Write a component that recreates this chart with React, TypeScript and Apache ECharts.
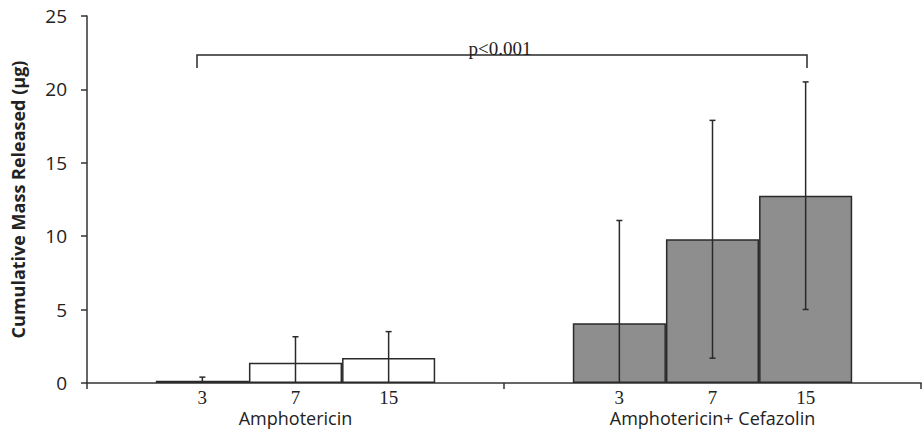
import React, { useEffect, useRef } from "react";
import * as echarts from "echarts";

const groups = ["Amphotericin", "Amphotericin+ Cefazolin"];
const days = ["3", "7", "15"];
const amphMeans = [0.15, 1.38, 1.7];
const amphSD = [0.25, 1.77, 1.8];
const cefMeans = [4.07, 9.79, 12.76];
const cefSD = [7.0, 8.1, 7.75];
const yTicks = [0, 5, 10, 15, 20, 25];
const pLabel = "p<0.001";

const AXIS = "#333333";
const GRAY = "#8e8e8e";
const GAP = 0.33;

export default function App() {
  const ref = useRef<HTMLDivElement>(null);
  useEffect(() => {
    const chart = echarts.init(ref.current!, null, { renderer: "svg" });
    const barSeries = days.map((d, i) => ({
      type: "bar",
      name: d,
      barGap: "0%",
      barCategoryGap: GAP * 100 + "%",
      data: [
        { value: amphMeans[i], itemStyle: { color: "#ffffff" } },
        { value: cefMeans[i], itemStyle: { color: GRAY } },
      ],
      itemStyle: { borderColor: "#2a2a2a", borderWidth: 1.5 },
      label: {
        show: true,
        position: "bottom",
        distance: 5,
        formatter: () => d,
        fontFamily: "Liberation Serif",
        fontSize: 19,
        color: "#222",
      },
      z: 2,
    }));
    const errData: number[][] = [];
    days.forEach((_, i) => {
      errData.push([0, amphMeans[i] - amphSD[i], amphMeans[i] + amphSD[i], i]);
      errData.push([1, cefMeans[i] - cefSD[i], cefMeans[i] + cefSD[i], i]);
    });
    const errSeries = {
      type: "custom",
      data: errData,
      z: 5,
      renderItem: (params: any, api: any) => {
        const cat = api.value(0);
        const lo = api.value(1);
        const hi = api.value(2);
        const idx = api.value(3);
        const barW = (api.size([1, 0])[0] * (1 - GAP)) / days.length;
        const off = (idx - (days.length - 1) / 2) * barW;
        const pTop = api.coord([cat, hi]);
        const pBot = api.coord([cat, Math.max(0, lo)]);
        const x = pTop[0] + off;
        const st = { stroke: "#2a2a2a", lineWidth: 1.5 };
        const children: any[] = [
          { type: "line", shape: { x1: x, y1: pTop[1], x2: x, y2: pBot[1] }, style: st },
          { type: "line", shape: { x1: x - 3, y1: pTop[1], x2: x + 3, y2: pTop[1] }, style: st },
        ];
        if (lo > 0) {
          children.push({ type: "line", shape: { x1: x - 3, y1: pBot[1], x2: x + 3, y2: pBot[1] }, style: st });
        }
        return { type: "group", children };
      },
    };
    chart.setOption({
      animation: false,
      grid: { left: 87, right: 2, top: 16, bottom: 50 },
      xAxis: {
        type: "category",
        data: groups,
        axisLine: { lineStyle: { color: AXIS, width: 1.5 } },
        axisTick: { show: true, length: 6, lineStyle: { color: AXIS, width: 1.5 } },
        axisLabel: { margin: 26, fontFamily: "Open Sans", fontSize: 18, color: "#222" },
      },
      yAxis: {
        type: "value",
        min: yTicks[0],
        max: yTicks[yTicks.length - 1],
        interval: 5,
        name: "Cumulative Mass Released (µg)",
        nameLocation: "middle",
        nameGap: 60,
        nameTextStyle: { fontFamily: "Open Sans", fontWeight: "bold", fontSize: 18, color: "#222" },
        axisLine: { show: true, lineStyle: { color: AXIS, width: 1.5 } },
        axisTick: { show: true, length: 6, lineStyle: { color: AXIS, width: 1.5 } },
        splitLine: { show: false },
        axisLabel: { margin: 20, fontFamily: "Open Sans", fontSize: 19, color: "#222" },
      },
      series: [...barSeries, errSeries],
      graphic: [
        {
          type: "polyline",
          shape: { points: [[197, 68], [197, 55], [807, 55], [807, 68]] },
          style: { stroke: "#2a2a2a", lineWidth: 1.5, fill: "none" },
        },
        {
          type: "text",
          x: 500,
          y: 58,
          style: {
            text: pLabel,
            fontFamily: "Liberation Serif",
            fontSize: 19,
            fill: "#222",
            textAlign: "center",
            textVerticalAlign: "bottom",
          },
        },
      ],
    });
    return () => chart.dispose();
  }, []);
  return <div ref={ref} style={{ width: 923, height: 433, position: "absolute", left: 0, top: 0 }} />;
}
